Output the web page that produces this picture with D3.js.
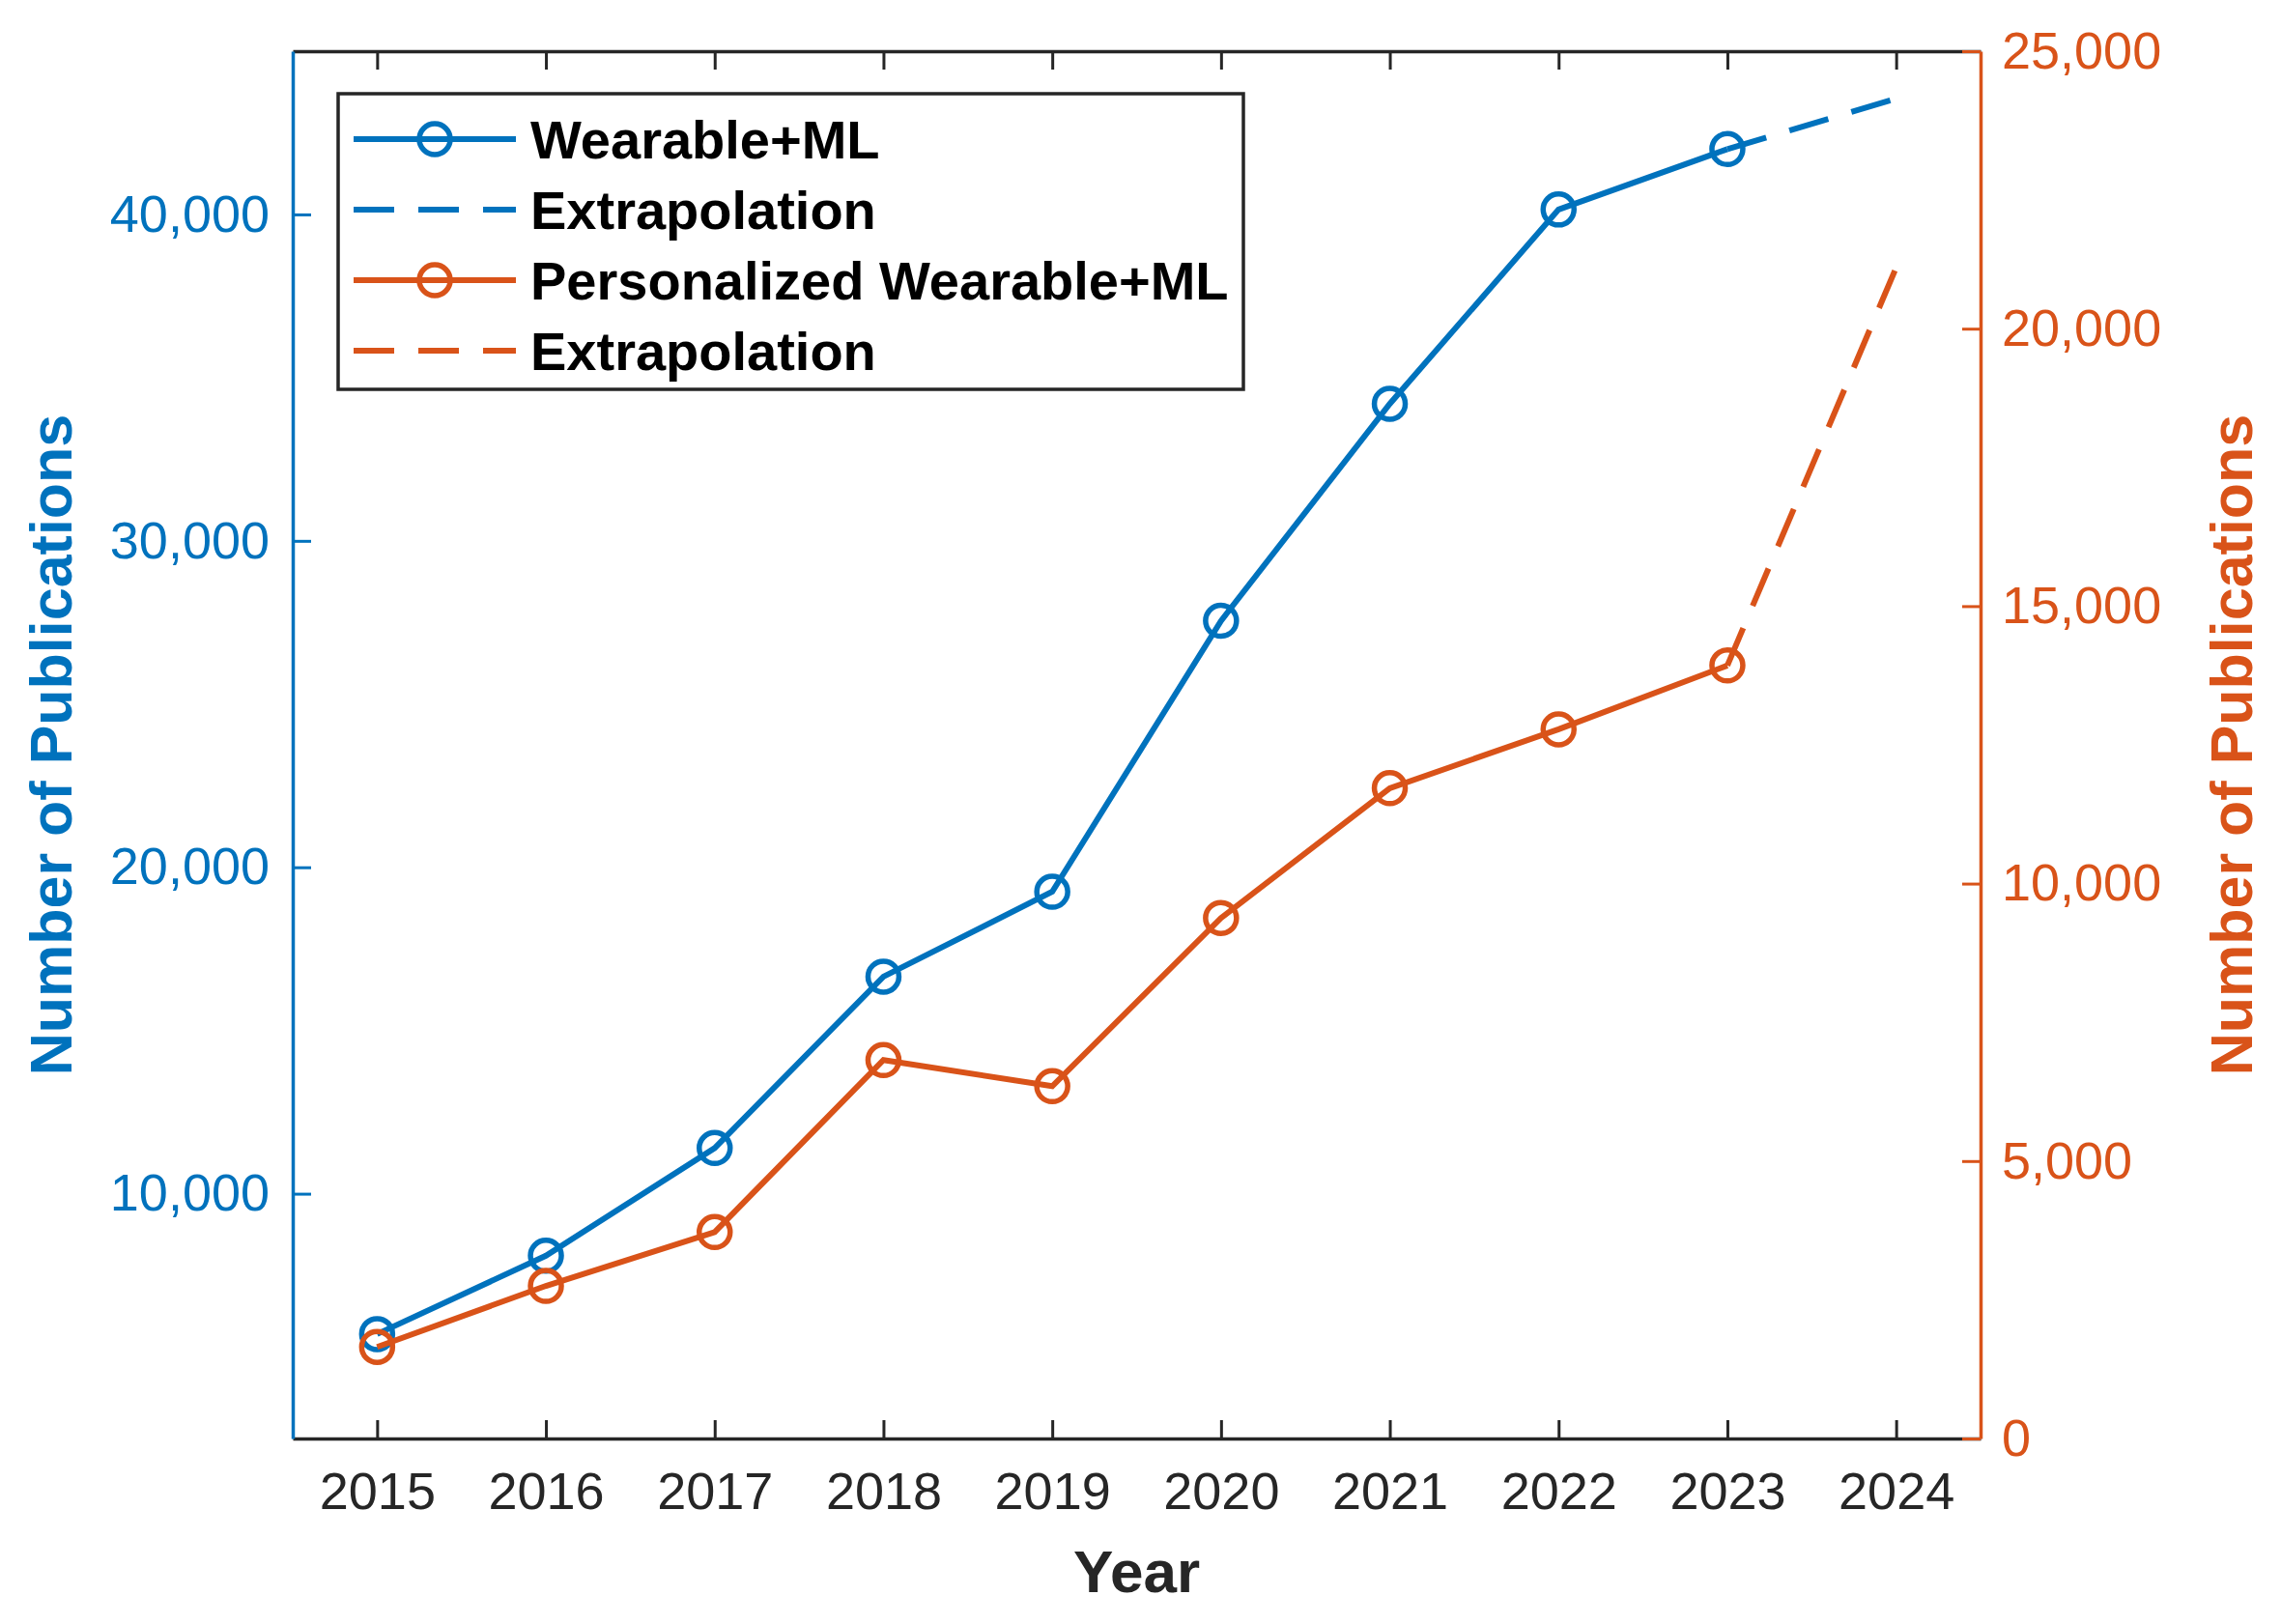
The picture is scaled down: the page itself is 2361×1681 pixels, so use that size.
<!DOCTYPE html>
<html>
<head>
<meta charset="utf-8">
<script src="https://cdn.jsdelivr.net/npm/d3@7"></script>
<style>
  body { margin: 0; background: #fff; }
  text { font-family: "Liberation Sans", Arial, sans-serif; }
</style>
</head>
<body>
<div id="vis"></div>
<script>
// data
var years = [2015, 2016, 2017, 2018, 2019, 2020, 2021, 2022, 2023];
var wearableML = [5700, 8100, 11400, 16650, 19250, 27550, 34200, 40150, 42000];
var personalized = [1650, 2750, 3720, 6820, 6350, 9380, 11720, 12780, 13930];
var extYears = [2023, 2024];
var wearableExt = [42000, 43550];
var personalizedExt = [13930, 21100];
var xTicks = [2015, 2016, 2017, 2018, 2019, 2020, 2021, 2022, 2023, 2024];
var leftTicks = [10000, 20000, 30000, 40000];
var rightTicks = [0, 5000, 10000, 15000, 20000, 25000];

var blue = '#0072BD', orange = '#D95319', dark = '#262626';
var W = 2361, H = 1681;
var L = 303, R = 2050, T = 53, B = 1489;
var tickLen = 19;
var lw = 6, mr = 16, mw = 5.5;

var svg = d3.select('#vis').append('svg').attr('width', W).attr('height', H);

var x = d3.scaleLinear().domain([2014.5, 2024.5]).range([L, R]);
var yL = d3.scaleLinear().domain([2500, 45000]).range([B, T]);
var yR = d3.scaleLinear().domain([0, 25000]).range([B, T]);

var fmt = d3.format(',');

// bottom axis
var gx = svg.append('g').attr('transform', 'translate(0,' + B + ')')
  .call(d3.axisBottom(x).tickValues(xTicks).tickFormat(d3.format('d')).tickSizeInner(-tickLen).tickSizeOuter(0).tickPadding(35));
gx.select('.domain').attr('stroke', dark).attr('stroke-width', 3.5);
gx.selectAll('.tick line').attr('stroke', dark).attr('stroke-width', 3);
gx.selectAll('.tick text').attr('fill', dark).attr('font-size', 54);

// top axis (box)
var gt = svg.append('g').attr('transform', 'translate(0,' + T + ')')
  .call(d3.axisTop(x).tickValues(xTicks).tickFormat('').tickSizeInner(-tickLen).tickSizeOuter(0));
gt.select('.domain').attr('stroke', dark).attr('stroke-width', 3.5);
gt.selectAll('.tick line').attr('stroke', dark).attr('stroke-width', 3);

// left axis
var gl = svg.append('g').attr('transform', 'translate(' + L + ',0)')
  .call(d3.axisLeft(yL).tickValues(leftTicks).tickFormat(fmt).tickSizeInner(-tickLen).tickSizeOuter(0).tickPadding(24));
gl.select('.domain').attr('stroke', blue).attr('stroke-width', 3.5);
gl.selectAll('.tick line').attr('stroke', blue).attr('stroke-width', 3);
gl.selectAll('.tick text').attr('fill', blue).attr('font-size', 54);

// right axis
var gr = svg.append('g').attr('transform', 'translate(' + R + ',0)')
  .call(d3.axisRight(yR).tickValues(rightTicks).tickFormat(fmt).tickSizeInner(-tickLen).tickSizeOuter(0).tickPadding(22));
gr.select('.domain').attr('stroke', orange).attr('stroke-width', 3.5);
gr.selectAll('.tick line').attr('stroke', orange).attr('stroke-width', 3);
gr.selectAll('.tick text').attr('fill', orange).attr('font-size', 54);

// axis titles
svg.append('text').attr('x', (L + R) / 2).attr('y', 1648)
  .attr('text-anchor', 'middle').attr('font-size', 62).attr('font-weight', 'bold')
  .attr('fill', dark).text('Year');
svg.append('text').attr('transform', 'translate(74,' + (T + B) / 2 + ') rotate(-90)')
  .attr('text-anchor', 'middle').attr('font-size', 61).attr('font-weight', 'bold')
  .attr('fill', blue).text('Number of Publications');
svg.append('text').attr('transform', 'translate(2331,' + (T + B) / 2 + ') rotate(-90)')
  .attr('text-anchor', 'middle').attr('font-size', 61).attr('font-weight', 'bold')
  .attr('fill', orange).text('Number of Publications');

// lines
var lineL = d3.line().x(function(d) { return x(d[0]); }).y(function(d) { return yL(d[1]); });
var lineR = d3.line().x(function(d) { return x(d[0]); }).y(function(d) { return yR(d[1]); });

function pairs(xs, ys) { return xs.map(function(v, i) { return [v, ys[i]]; }); }

svg.append('path').datum(pairs(extYears, wearableExt))
  .attr('d', lineL).attr('fill', 'none').attr('stroke', blue)
  .attr('stroke-width', lw).attr('stroke-dasharray', '42,25');
svg.append('path').datum(pairs(extYears, personalizedExt))
  .attr('d', lineR).attr('fill', 'none').attr('stroke', orange)
  .attr('stroke-width', lw).attr('stroke-dasharray', '42,25');

svg.append('path').datum(pairs(years, wearableML))
  .attr('d', lineL).attr('fill', 'none').attr('stroke', blue).attr('stroke-width', lw);
svg.selectAll('circle.wml')
  .data(pairs(years, wearableML)).enter().append('circle')
  .attr('class', 'wml')
  .attr('cx', function(d) { return x(d[0]); })
  .attr('cy', function(d) { return yL(d[1]); })
  .attr('r', mr).attr('fill', 'none').attr('stroke', blue).attr('stroke-width', mw);

svg.append('path').datum(pairs(years, personalized))
  .attr('d', lineR).attr('fill', 'none').attr('stroke', orange).attr('stroke-width', lw);
svg.selectAll('circle.pers')
  .data(pairs(years, personalized)).enter().append('circle')
  .attr('class', 'pers')
  .attr('cx', function(d) { return x(d[0]); })
  .attr('cy', function(d) { return yR(d[1]); })
  .attr('r', mr).attr('fill', 'none').attr('stroke', orange).attr('stroke-width', mw);

// legend
var legendItems = [
  {label: 'Wearable+ML', color: blue, dash: null, marker: true},
  {label: 'Extrapolation', color: blue, dash: '42,25', marker: false},
  {label: 'Personalized Wearable+ML', color: orange, dash: null, marker: true},
  {label: 'Extrapolation', color: orange, dash: '42,25', marker: false}
];
var lg = svg.append('g');
lg.append('rect').attr('x', 350).attr('y', 97).attr('width', 937).attr('height', 306)
  .attr('fill', '#fff').attr('stroke', dark).attr('stroke-width', 3.5);
var rows = lg.selectAll('g.row').data(legendItems).enter().append('g')
  .attr('class', 'row')
  .attr('transform', function(d, i) { return 'translate(0,' + (144 + i * 73) + ')'; });
rows.append('line').attr('x1', 366).attr('x2', 534).attr('y1', 0).attr('y2', 0)
  .attr('stroke', function(d) { return d.color; }).attr('stroke-width', lw)
  .attr('stroke-dasharray', function(d) { return d.dash; });
rows.filter(function(d) { return d.marker; }).append('circle')
  .attr('cx', 450).attr('cy', 0).attr('r', mr).attr('fill', 'none')
  .attr('stroke', function(d) { return d.color; }).attr('stroke-width', mw);
rows.append('text').attr('x', 549).attr('y', 0).attr('dy', '0.36em')
  .attr('font-size', 56).attr('font-weight', 'bold').attr('fill', '#000')
  .text(function(d) { return d.label; });
</script>
</body>
</html>
